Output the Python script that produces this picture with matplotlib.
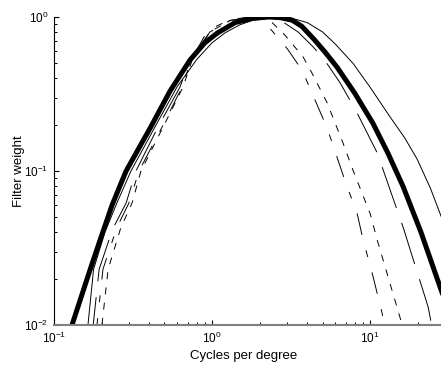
import matplotlib
matplotlib.use("Agg")
import matplotlib.pyplot as plt
from matplotlib.ticker import LogLocator, NullFormatter

plt.rcParams['font.family'] = ['Liberation Sans', 'DejaVu Sans']
plt.rcParams['mathtext.fontset'] = 'custom'
plt.rcParams['mathtext.rm'] = 'Liberation Sans'
plt.rcParams['mathtext.default'] = 'regular'
plt.rcParams['lines.scale_dashes'] = False

# Mean filter (thick line)
mean_cpd = [0.125, 0.13, 0.17, 0.2, 0.233, 0.26, 0.286, 0.35, 0.406, 0.542, 0.726, 0.9, 1.08, 1.4,
            1.8, 2.3, 2.7, 3.2, 3.7, 4.4, 5.2, 6.2, 8.0, 10.4, 13.0, 16.2, 21.0, 27.7, 29.0]
mean_w = [0.0085, 0.01, 0.0232, 0.038, 0.06, 0.079, 0.10, 0.145, 0.19, 0.33, 0.526, 0.68, 0.787, 0.92,
          0.98, 1.0, 0.99, 0.955, 0.87, 0.72, 0.59, 0.47, 0.32, 0.205, 0.13, 0.079, 0.04, 0.0177, 0.0155]

# Broad filter (thin solid)
broad_cpd = [0.155, 0.164, 0.178, 0.21, 0.25, 0.307, 0.435, 0.6, 0.8, 1.0, 1.21, 1.5, 1.8, 2.5,
             3.0, 4.0, 5.0, 6.0, 7.8, 10.0, 13.4, 16.5, 19.8, 24.0, 27.7, 29.0]
broad_w = [0.008, 0.01, 0.023, 0.04, 0.062, 0.1, 0.193, 0.351, 0.53, 0.68, 0.79, 0.89, 0.95, 0.995,
           1.0, 0.92, 0.8, 0.67, 0.5, 0.35, 0.224, 0.165, 0.12, 0.078, 0.053, 0.047]

# Subject filters (dashed)
a_cpd = [0.172, 0.177, 0.193, 0.235, 0.286, 0.33, 0.455, 0.627, 0.726, 0.97, 1.3, 1.7, 2.2,
         2.8, 3.5, 4.36, 5.19, 6.5, 8.28, 11.1, 16.2, 23.3, 25.0]
a_w = [0.008, 0.01, 0.023, 0.042, 0.062, 0.1, 0.193, 0.351, 0.53, 0.8, 0.95, 0.99, 1.0,
       0.93, 0.8, 0.64, 0.52, 0.37, 0.238, 0.131, 0.043, 0.0131, 0.009]

b_cpd = [0.182, 0.187, 0.204, 0.25, 0.298, 0.345, 0.483, 0.646, 0.74, 0.94, 1.3, 1.6, 1.9,
         2.15, 2.43, 3.0, 3.72, 5.35, 6.95, 8.28, 9.04, 10.3, 11.9, 12.5]
b_w = [0.008, 0.01, 0.023, 0.043, 0.062, 0.1, 0.193, 0.351, 0.53, 0.82, 0.96, 0.99, 1.0,
       0.93, 0.8, 0.62, 0.45, 0.19, 0.086, 0.053, 0.0356, 0.0218, 0.012, 0.009]

c_cpd = [0.196, 0.201, 0.22, 0.265, 0.312, 0.355, 0.49, 0.655, 0.75, 0.97, 1.3, 1.65, 2.0,
         2.4, 2.9, 3.77, 4.3, 5.35, 6.74, 7.8, 10.0, 11.1, 15.5, 16.5]
c_w = [0.008, 0.01, 0.023, 0.043, 0.062, 0.1, 0.193, 0.351, 0.53, 0.8, 0.95, 0.99, 1.0,
       0.92, 0.76, 0.55, 0.43, 0.277, 0.152, 0.101, 0.053, 0.0356, 0.0111, 0.009]

fig = plt.figure(figsize=(4.41, 3.67), dpi=100)
ax = fig.add_axes([54 / 441, 42 / 367, 387 / 441, 308 / 367])

ax.plot(broad_cpd, broad_w, color='black', linewidth=0.7, solid_joinstyle='round')
la, = ax.plot(a_cpd, a_w, color='black', linewidth=0.7)
la.set_dashes([31, 11.5])
lb, = ax.plot(b_cpd, b_w, color='black', linewidth=0.7)
lb.set_dashes([15.8, 11.5, 5, 11.5])
lc, = ax.plot(c_cpd, c_w, color='black', linewidth=0.7)
lc.set_dashes([5, 6])
ax.plot(mean_cpd, mean_w, color='black', linewidth=3.6, solid_joinstyle='round')

ax.set_xscale('log')
ax.set_yscale('log')
ax.set_xlim(0.1, 28.1)
ax.set_ylim(0.01, 1.0)

ax.xaxis.set_major_locator(LogLocator(base=10, numticks=10))
ax.xaxis.set_minor_locator(LogLocator(base=10, subs=range(2, 10), numticks=20))
ax.yaxis.set_major_locator(LogLocator(base=10, numticks=10))
ax.yaxis.set_minor_locator(LogLocator(base=10, subs=range(2, 10), numticks=20))
ax.xaxis.set_minor_formatter(NullFormatter())
ax.yaxis.set_minor_formatter(NullFormatter())

ax.spines['top'].set_visible(False)
ax.spines['right'].set_visible(False)
ax.spines['bottom'].set_color('#808080')
ax.spines['bottom'].set_linewidth(1.5)
ax.spines['left'].set_linewidth(0.8)

ax.tick_params(which='major', direction='in', length=3.5, width=0.8, labelsize=8.5, pad=4)
ax.tick_params(which='minor', direction='in', length=2, width=0.7)
ax.tick_params(top=False, right=False, which='both')

ax.set_xlabel('Cycles per degree', fontsize=9.5)
ax.set_ylabel('Filter weight', fontsize=9.5)
ax.xaxis.set_label_coords(0.49, -0.08)
ax.yaxis.set_label_coords(-0.075, 0.5)

fig.savefig('out.png', dpi=100)
